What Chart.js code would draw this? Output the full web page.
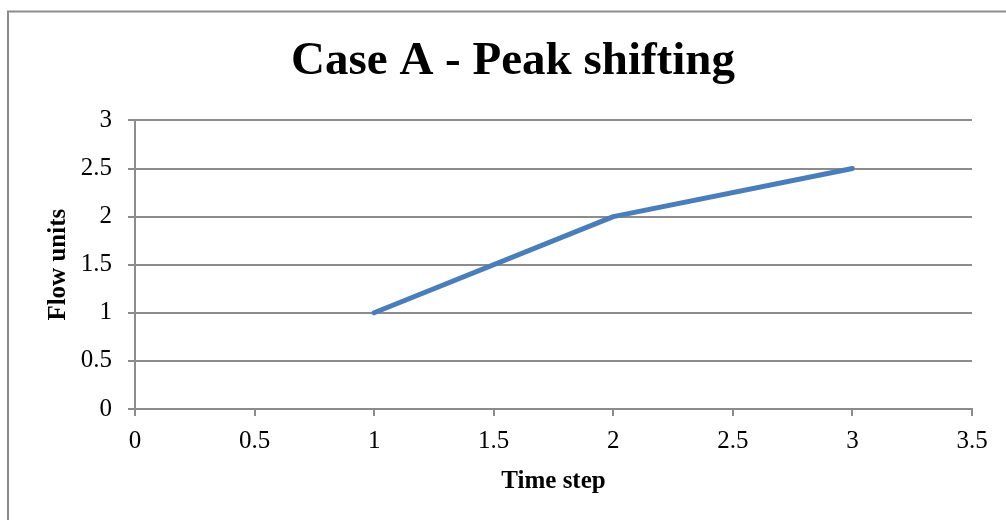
<!DOCTYPE html>
<html>
<head>
<meta charset="utf-8">
<script src="https://cdn.jsdelivr.net/npm/chart.js@4"></script>
<style>
  html, body { margin: 0; padding: 0; background: #fff; }
  #wrap { width: 1006px; height: 520px; }
</style>
</head>
<body>
<div id="wrap"><canvas id="myChart"></canvas></div>
<script>
  // values
  const timeSteps = [1, 2, 3];
  const flowUnits = [1, 2, 2.5];

  const chartTitle = 'Case A - Peak shifting';
  const xTitle = 'Time step';
  const yTitle = 'Flow units';

  const points = timeSteps.map((t, i) => ({ x: t, y: flowUnits[i] }));

  const gridGray = '#8c8c8c';
  const serif = "'Liberation Serif', 'Times New Roman', serif";

  // outer frame of the chart (only top and left edges show in the picture)
  const frame = {
    id: 'frame',
    beforeDraw(chart) {
      const ctx = chart.ctx;
      ctx.save();
      ctx.strokeStyle = gridGray;
      ctx.lineWidth = 2;
      ctx.beginPath();
      ctx.moveTo(8, 520);
      ctx.lineTo(8, 11.5);
      ctx.lineTo(1006, 11.5);
      ctx.stroke();
      ctx.restore();
    }
  };

  // excel style labels: 1 not 1.0
  const plainNumber = value => String(value);

  const config = {
    type: 'line',
    data: {
      datasets: [{
        data: points,
        borderColor: '#4a7ebb',
        borderWidth: 5,
        borderCapStyle: 'round',
        borderJoinStyle: 'round',
        pointRadius: 0,
        pointHoverRadius: 0,
        tension: 0,
        fill: false
      }]
    },
    options: {
      responsive: true,
      maintainAspectRatio: false,
      animation: false,
      events: [],
      layout: { padding: { left: 20, right: 0, top: 0, bottom: 0 } },
      plugins: {
        legend: { display: false },
        tooltip: { enabled: false },
        title: {
          display: true,
          text: chartTitle,
          color: '#000',
          font: { family: serif, size: 47, weight: 'bold' },
          padding: { top: 34, bottom: 30 }
        }
      },
      scales: {
        x: {
          type: 'linear',
          min: 0,
          max: 3.5,
          ticks: {
            stepSize: 0.5,
            callback: plainNumber,
            color: '#000',
            padding: 10,
            font: { family: serif, size: 25 }
          },
          grid: {
            drawOnChartArea: false,
            drawTicks: true,
            tickLength: 7,
            color: gridGray,
            lineWidth: 2
          },
          border: { display: true, color: gridGray, width: 2 },
          title: {
            display: true,
            text: xTitle,
            color: '#000',
            font: { family: serif, size: 25, weight: 'bold' },
            padding: 23
          },
          afterFit(scale) { scale.height = 111; }
        },
        y: {
          min: 0,
          max: 3,
          ticks: {
            stepSize: 0.5,
            callback: plainNumber,
            color: '#000',
            padding: 16,
            font: { family: serif, size: 25 }
          },
          grid: {
            color: gridGray,
            lineWidth: 2,
            tickLength: 7
          },
          border: { display: true, color: gridGray, width: 2 },
          title: {
            display: true,
            text: yTitle,
            color: '#000',
            font: { family: serif, size: 25, weight: 'bold' },
            padding: 24
          },
          afterFit(scale) { scale.width = 115; }
        },
        // empty right-side axis, only keeps room to the right of the plot
        yRight: {
          position: 'right',
          display: true,
          ticks: { display: false },
          grid: { display: false },
          border: { display: false },
          afterFit(scale) { scale.width = 34; }
        }
      }
    },
    plugins: [frame]
  };

  const chart = new Chart(document.getElementById('myChart'), config);
</script>
</body>
</html>
